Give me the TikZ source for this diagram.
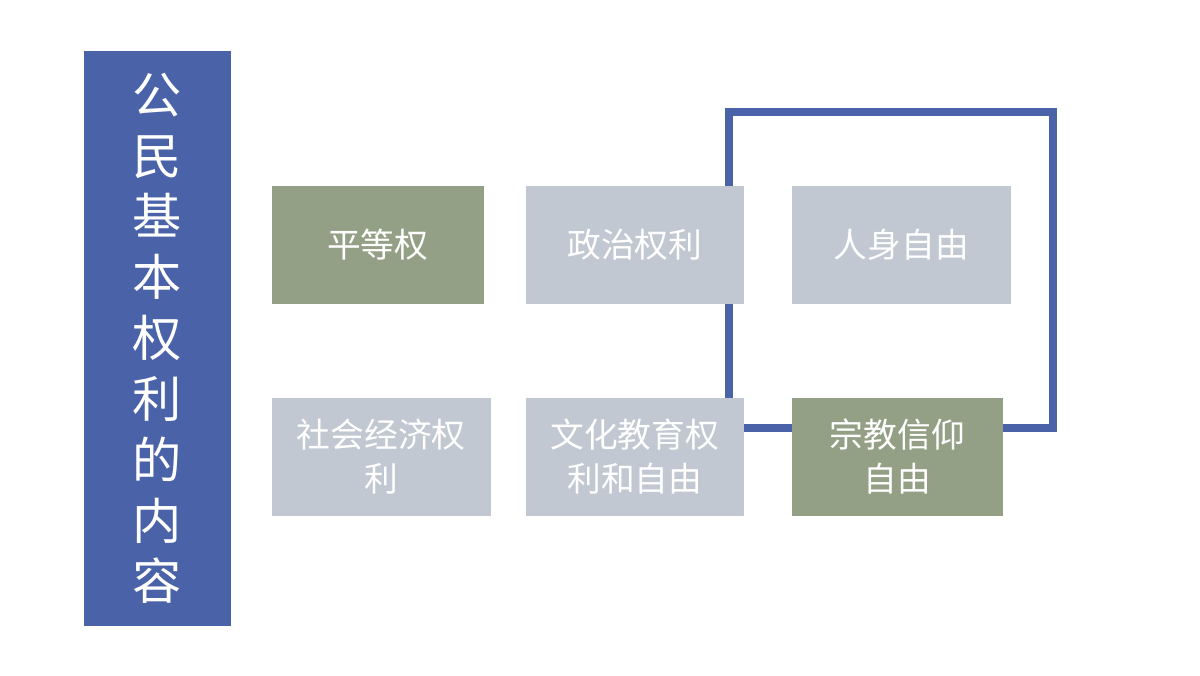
\documentclass[tikz,border=0pt]{standalone}
\usepackage{fontspec}
\newfontfamily\cjk{Noto Sans CJK SC}
\usetikzlibrary{positioning}
\definecolor{barblue}{HTML}{4A62A8}
\definecolor{boxgreen}{HTML}{93A085}
\definecolor{boxgray}{HTML}{C1C8D1}
\tikzset{
  item/.style = {text = white, font = \cjk\fontsize{9.6}{12.5}\selectfont, align = center,
    inner sep = 0pt, text width = 1.95cm, minimum height = 1.18cm, anchor = north west},
  greenbox/.style = {item, fill = boxgreen},
  graybox/.style = {item, fill = boxgray}
}
\begin{document}
\begin{tikzpicture}[x = 0.01cm, y = -0.01cm]
\useasboundingbox (0, 0) rectangle (1200, 675);
% frame behind the boxes
\draw[barblue, line width = 2pt] (729, 112) rectangle (1053, 428);
\node[fill = barblue, text = white, anchor = north west, minimum width = 1.47cm, minimum height = 5.75cm,
  inner sep = 0pt, align = center, font = \cjk\fontsize{14}{17.3}\selectfont] (title) at (83, 50)
  {公\\民\\基\\本\\权\\利\\的\\内\\容};
\node[greenbox, minimum width = 2.12cm] (equal) at (271, 185) {平等权};
\node[graybox, minimum width = 2.18cm] (politic) at (525, 185) {政治权利};
\node[graybox, minimum width = 2.19cm] (person) at (791, 185) {人身自由};
\node[graybox, minimum width = 2.19cm] (economy) at (271, 397) {社会经济权\\利};
\node[graybox, minimum width = 2.18cm] (culture) at (525, 397) {文化教育权\\利和自由};
\node[greenbox, minimum width = 2.11cm] (religion) at (791, 397) {宗教信仰\\自由};
\end{tikzpicture}
\end{document}
